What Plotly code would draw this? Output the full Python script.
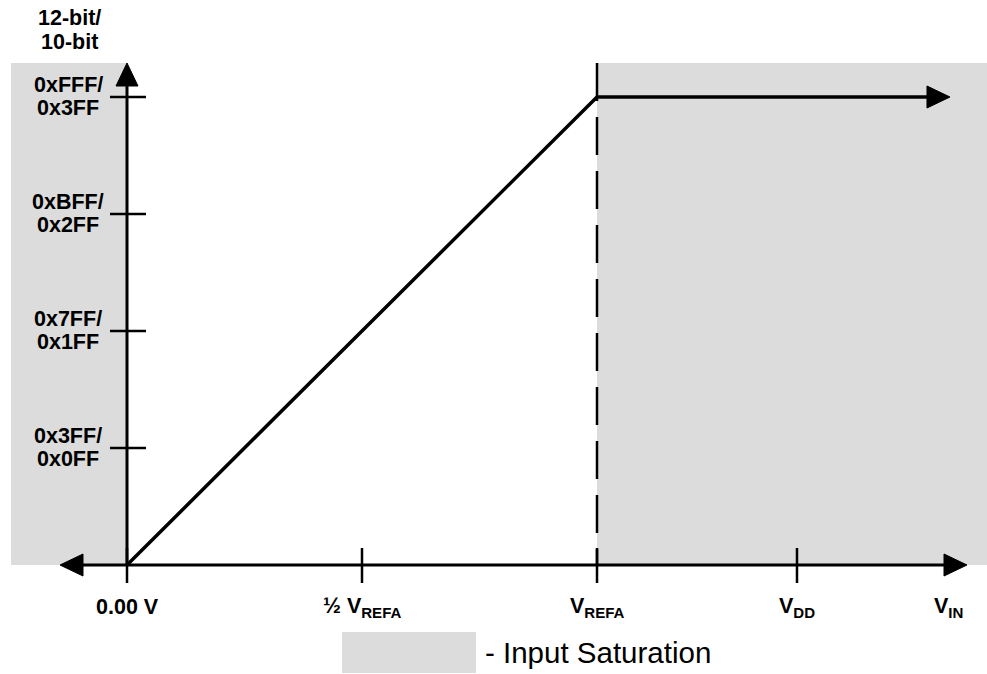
import plotly.graph_objects as go

# ---- data -------------------------------------------------------------
# Input voltage in units of V_REFA, output code in 12-bit counts
x_tick_vals = [0.0, 0.5, 1.0, 1.4255]
x_tick_text = ["0.00 V", "½ V<sub>REFA</sub>", "V<sub>REFA</sub>", "V<sub>DD</sub>"]
vin_label_x = 1.7468

y_tick_vals = [1023, 2047, 3071, 4095]
y_text_12bit = ["0x3FF/", "0x7FF/", "0xBFF/", "0xFFF/"]
y_text_10bit = ["0x0FF", "0x1FF", "0x2FF", "0x3FF"]

transfer_vin = [0.0, 1.0, 1.751]
transfer_code = [0, 4095, 4095]

v_refa = 1.0
full_scale = 4095

# ---- geometry / styling ----------------------------------------------
W, H = 987, 674
X_RANGE = [-127 / 470, 860 / 470]
Y_RANGE = [(565 - 674) * 4095 / 468, 565 * 4095 / 468]
px_x = 470.0                # pixels per x unit
px_y = 468.0 / 4095.0       # pixels per code
top = 502 / px_y            # top of the axis / shaded band
x_left_tip = -67 / px_x
x_right_tip = 840 / px_x
x_left_band = -116 / px_x

GRAY = "#dcdcdc"
BOLD = dict(family="Liberation Sans, Arial, sans-serif", size=21.5, color="black")

HEAD_LEN = 23   # px
HEAD_HALF = 11  # px

fig = go.Figure()

# shaded saturation regions
shapes = [
    dict(type="rect", xref="x", yref="y", x0=x_left_band, x1=0, y0=0, y1=top,
         fillcolor=GRAY, line=dict(width=0), layer="below"),
    dict(type="rect", xref="x", yref="y", x0=v_refa, x1=X_RANGE[1], y0=0, y1=top,
         fillcolor=GRAY, line=dict(width=0), layer="below"),
    # legend swatch
    dict(type="rect", xref="paper", yref="paper", x0=342 / W, x1=476 / W,
         y0=1 - 673 / H, y1=1 - 632 / H, fillcolor=GRAY, line=dict(width=0)),
]


def head(tx, ty, direction):
    """Filled triangular arrowhead with its tip at (tx, ty)."""
    L, h = HEAD_LEN, HEAD_HALF
    if direction == "right":
        pts = [(tx, ty), (tx - L / px_x, ty + h / px_y), (tx - L / px_x, ty - h / px_y)]
    elif direction == "left":
        pts = [(tx, ty), (tx + L / px_x, ty + h / px_y), (tx + L / px_x, ty - h / px_y)]
    else:  # up
        pts = [(tx, ty), (tx - h / px_x, ty - L / px_y), (tx + h / px_x, ty - L / px_y)]
    path = "M " + " L ".join(f"{x:.5f},{y:.3f}" for x, y in pts) + " Z"
    shapes.append(dict(type="path", xref="x", yref="y", path=path,
                       fillcolor="black", line=dict(color="black", width=1),
                       layer="above"))


# dashed V_REFA marker
fig.add_trace(go.Scatter(x=[v_refa, v_refa], y=[top, 0], mode="lines",
                         line=dict(color="black", width=2.5, dash="38px,16px"),
                         hoverinfo="skip"))

# axes
fig.add_trace(go.Scatter(x=[x_left_tip + 10 / px_x, x_right_tip - 10 / px_x], y=[0, 0],
                         mode="lines", line=dict(color="black", width=3),
                         hoverinfo="skip"))
fig.add_trace(go.Scatter(x=[0, 0], y=[0, top - 10 / px_y], mode="lines",
                         line=dict(color="black", width=3), hoverinfo="skip"))
head(x_right_tip, 0, "right")
head(x_left_tip, 0, "left")
head(0, top, "up")

# tick marks
tx, ty = [], []
for v in x_tick_vals:
    tx += [v, v, None]
    ty += [17 / px_y, -18 / px_y, None]
fig.add_trace(go.Scatter(x=tx, y=ty, mode="lines",
                         line=dict(color="black", width=2.5), hoverinfo="skip"))
hx, hy = [], []
for v in y_tick_vals:
    hx += [-17 / px_x, 19 / px_x, None]
    hy += [v, v, None]
fig.add_trace(go.Scatter(x=hx, y=hy, mode="lines",
                         line=dict(color="black", width=2.5), hoverinfo="skip"))

# transfer function
fig.add_trace(go.Scatter(x=transfer_vin[:-1] + [transfer_vin[-1] - 10 / px_x],
                         y=transfer_code, mode="lines",
                         line=dict(color="black", width=3.5), hoverinfo="skip"))
head(transfer_vin[-1], transfer_code[-1], "right")

annotations = []

# x labels
for v, t in zip(x_tick_vals, x_tick_text):
    annotations.append(dict(x=v, y=0, xref="x", yref="y", text=f"<b>{t}</b>",
                            showarrow=False, yshift=-42, xanchor="center",
                            yanchor="middle", font=BOLD))
annotations.append(dict(x=vin_label_x, y=0, xref="x", yref="y",
                        text="<b>V<sub>IN</sub></b>", showarrow=False, yshift=-42,
                        xanchor="center", yanchor="middle", font=BOLD))

# y labels (two stacked lines per tick)
for v, a, b in zip(y_tick_vals, y_text_12bit, y_text_10bit):
    annotations.append(dict(x=-59 / px_x, y=v, xref="x", yref="y", text=f"<b>{a}</b>",
                            showarrow=False, yshift=12, xanchor="center",
                            yanchor="middle", font=BOLD))
    annotations.append(dict(x=-59 / px_x, y=v, xref="x", yref="y", text=f"<b>{b}</b>",
                            showarrow=False, yshift=-11, xanchor="center",
                            yanchor="middle", font=BOLD))

# y axis title
annotations.append(dict(x=69 / W, y=1 - 18 / H, xref="paper", yref="paper",
                        text="<b>12-bit/</b>", showarrow=False, xanchor="center",
                        yanchor="middle", font=BOLD))
annotations.append(dict(x=69 / W, y=1 - 42 / H, xref="paper", yref="paper",
                        text="<b>10-bit</b>", showarrow=False, xanchor="center",
                        yanchor="middle", font=BOLD))

# legend text
annotations.append(dict(x=483 / W, y=1 - 652 / H, xref="paper", yref="paper",
                        text="- Input Saturation", showarrow=False, xanchor="left",
                        yanchor="middle",
                        font=dict(family="Liberation Sans, Arial, sans-serif",
                                  size=29.5, color="black")))

fig.update_layout(
    width=W, height=H, margin=dict(l=0, r=0, t=0, b=0, pad=0),
    paper_bgcolor="white", plot_bgcolor="white", showlegend=False,
    xaxis=dict(range=X_RANGE, visible=False, fixedrange=True),
    yaxis=dict(range=Y_RANGE, visible=False, fixedrange=True),
    shapes=shapes, annotations=annotations,
)

fig.write_html("out.html")
